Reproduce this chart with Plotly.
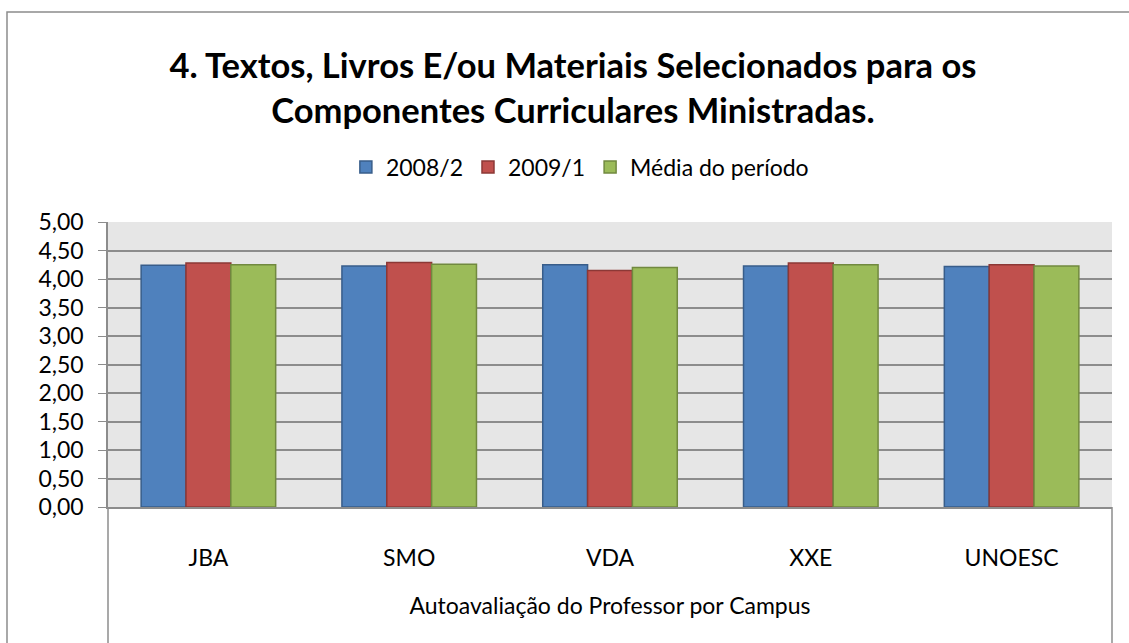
import plotly.graph_objects as go

categories = ["JBA", "SMO", "VDA", "XXE", "UNOESC"]
s2008_2 = [4.24, 4.23, 4.25, 4.23, 4.22]
s2009_1 = [4.28, 4.29, 4.15, 4.28, 4.25]
media = [4.25, 4.26, 4.20, 4.25, 4.23]
series_names = ["2008/2", "2009/1", "Média do período"]
yticks = [0, 0.5, 1, 1.5, 2, 2.5, 3, 3.5, 4, 4.5, 5]

FONT = "Lato"
fills = ["#4F81BD", "#C0504D", "#9BBB59"]
lines = ["#385D8A", "#8C3836", "#71893F"]
GRID = "#8C8C8C"

fig = go.Figure()
for name, vals, fc, lc in zip(series_names, [s2008_2, s2009_1, media], fills, lines):
    fig.add_trace(go.Bar(x=categories, y=vals, name=name,
                         marker=dict(color=fc, line=dict(color=lc, width=1.5))))

fig.update_layout(
    width=1129, height=643,
    margin=dict(l=108, r=17, t=222, b=136),
    paper_bgcolor="white", plot_bgcolor="#E6E6E6",
    separators=",.",
    barmode="group", bargap=0.33, bargroupgap=0,
    font=dict(family=FONT, size=23, color="black"),
    title=dict(text="<b>4. Textos, Livros E/ou Materiais Selecionados para os<br>Componentes Curriculares Ministradas.</b>",
               x=0.5075, xanchor="center", y=0.879, yanchor="middle",
               font=dict(family=FONT, size=34.5, color="black")),
    legend=dict(orientation="h", x=0.47, xanchor="center", y=1.193, yanchor="middle",
                font=dict(family=FONT, size=23), itemwidth=30, traceorder="normal",
                bgcolor="rgba(0,0,0,0)"),
    showlegend=True,
)

fig.update_yaxes(range=[0, 5], tickvals=yticks, tickformat=".2f",
                 showgrid=True, gridcolor=GRID, gridwidth=1.5,
                 ticks="outside", ticklen=8, tickcolor=GRID,
                 ticklabelstandoff=10,
                 showline=True, linecolor=GRID, linewidth=1.5,
                 tickfont=dict(family=FONT, size=23), zeroline=False)
fig.update_xaxes(showline=True, linecolor=GRID, linewidth=1.5,
                 ticks="", tickfont=dict(family=FONT, size=23),
                 ticklabelstandoff=30,
                 title=dict(text="Autoavaliação do Professor por Campus",
                            font=dict(family=FONT, size=23), standoff=28))

# category-axis separator lines below the plot area
for xv in [0, 1]:
    fig.add_shape(type="line", xref="paper", yref="paper", x0=xv, x1=xv,
                  y0=0, y1=-0.48, line=dict(color=GRID, width=1.5))
# outer chart border
fig.add_shape(type="rect", xref="paper", yref="paper",
              x0=-0.1006, x1=1.03, y0=-0.6, y1=1.737,
              line=dict(color=GRID, width=1.5), fillcolor="rgba(0,0,0,0)",
              layer="below")

fig.write_html("out.html", config={"displayModeBar": False},
               post_script="document.body.style.margin='0px';")
